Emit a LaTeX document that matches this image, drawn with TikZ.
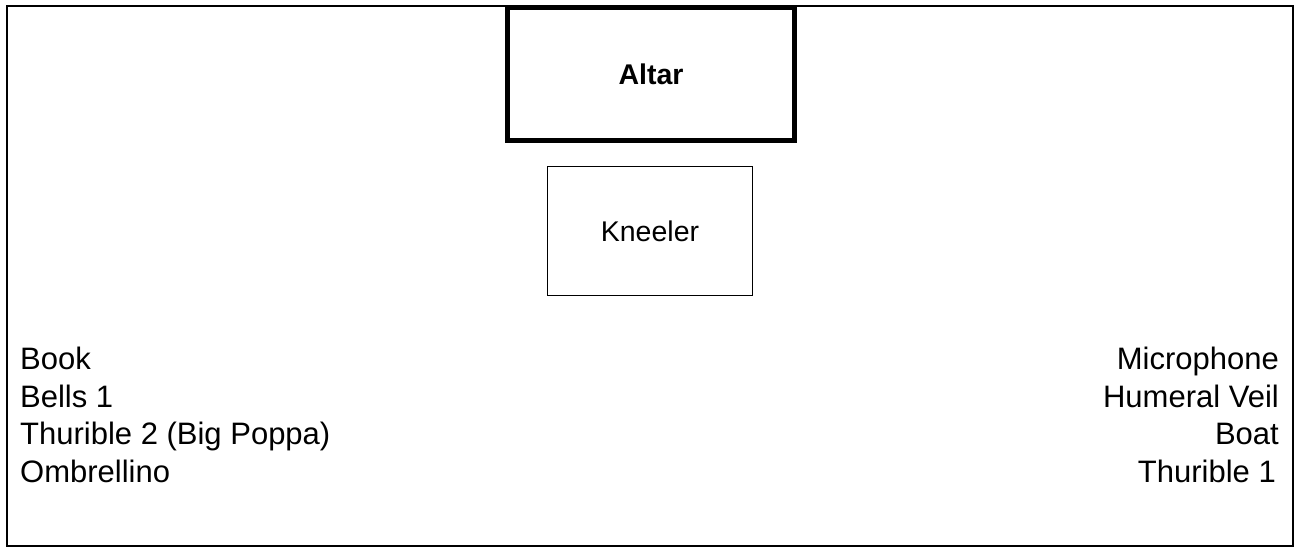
\documentclass[tikz,border=0pt]{standalone}
\usepackage{fontspec}
\setmainfont{Liberation Sans}
\usetikzlibrary{positioning}

\begin{document}
\begin{tikzpicture}[x=1pt, y=-1pt,
		furniture/.style={draw, rectangle, inner sep=0pt, font=\fontsize{28.5}{30}\selectfont},
		itemlist/.style={inner sep=0pt, font=\fontsize{31}{37.5}\selectfont}]
			\useasboundingbox (0, 0) rectangle (1296, 548);
			\draw [line width=2pt] (7, 6) rectangle (1293, 546);
			\node (altar) at (651, 74) [furniture, line width=5pt, minimum width=287pt, minimum height=133pt] {\bfseries Altar};
			\node (kneeler) at (650, 231) [furniture, line width=1.8pt, minimum width=205pt, minimum height=129pt] {Kneeler};
			\node (left) at (20, 347) [itemlist, anchor=north west, align=left] {Book\\Bells 1\\Thurible 2 (Big Poppa)\\Ombrellino};
			\node (right) at (1279, 347) [itemlist, anchor=north east, align=right] {Microphone\\Humeral Veil\hspace*{3pt}\\Boat\hspace*{5pt}\\Thurible 1\hspace*{3pt}};
		\end{tikzpicture}
\end{document}
